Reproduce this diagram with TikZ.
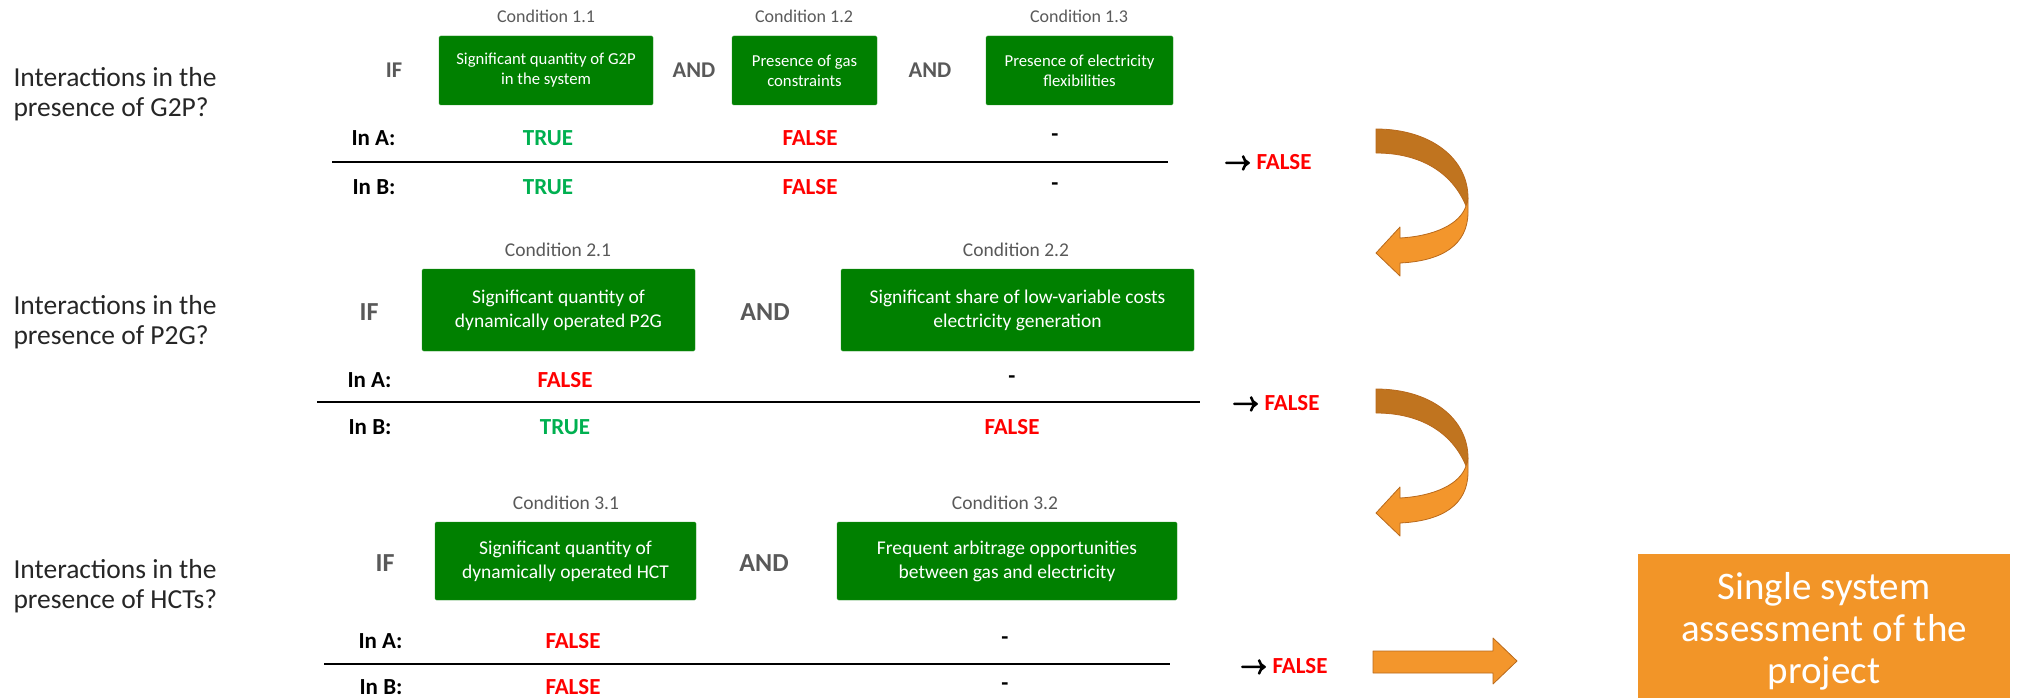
\documentclass[tikz,border=0pt]{standalone}
\usepackage{fontspec}
\setmainfont{Carlito}
\newfontfamily\arrowfont[FakeBold=6]{latinmodern-math.otf}
\definecolor{boxgreen}{HTML}{008000}
\definecolor{truegreen}{HTML}{00B050}
\definecolor{falsered}{HTML}{FF0000}
\definecolor{wordgray}{HTML}{595959}
\definecolor{orangebox}{HTML}{F29528}
\definecolor{arrowlight}{HTML}{F3962C}
\definecolor{arrowdark}{HTML}{C0741F}
\definecolor{arrowedge}{HTML}{B8691C}

\begin{document}
\begin{tikzpicture}[x=1pt,y=-1pt,
    question/.style={anchor=west, align=left, text=black!85, font=\fontsize{27.5}{30}\selectfont},
    condlabel/.style={text=wordgray, font=\fontsize{18}{21}\selectfont},
    condbox/.style={fill=boxgreen, draw=boxgreen!85!white, rounded corners=1.5pt, text=white, align=center, inner sep=0pt, font=\fontsize{16.7}{20}\selectfont},
    joiner/.style={text=wordgray, font=\bfseries\fontsize{22.5}{26}\selectfont},
    caselabel/.style={anchor=east, font=\bfseries\fontsize{23}{27}\selectfont},
    verdict/.style={font=\bfseries\fontsize{23}{27}\selectfont},
    big/.style={font=\fontsize{19.5}{24}\selectfont},
    rule/.style={line width=2.5pt},
    ribbon/.style={draw=arrowedge, line width=0.8pt, line join=round}]
        \useasboundingbox (0,0) rectangle (2020,698);

        % row 1: G2P
        \node[question] (q1) at (10,94) {Interactions in the\\presence of G2P?};
        \node[condlabel] (l11) at (546,16) {Condition 1.1};
        \node[condlabel] (l12) at (804,16) {Condition 1.2};
        \node[condlabel] (l13) at (1079,16) {Condition 1.3};
        \node[joiner] (if1) at (394,70) {IF};
        \node[condbox, minimum width=214, minimum height=69] (c11) at (546,70.5) {Significant quantity of G2P\\in the system};
        \node[joiner] (and11) at (694,70) {AND};
        \node[condbox, minimum width=145, minimum height=69] (c12) at (804.5,70.5) {Presence of gas\\constraints};
        \node[joiner] (and12) at (930,70) {AND};
        \node[condbox, minimum width=187, minimum height=69] (c13) at (1079.5,70.5) {Presence of electricity\\flexibilities};
        \node[caselabel] (a1) at (399,138) {In A:};
        \node[verdict, truegreen] (a11) at (548,138) {TRUE};
        \node[verdict, falsered] (a12) at (810,138) {FALSE};
        \node[verdict] (a13) at (1055,138) {-};
        \coordinate (s1a) at (332,162);
        \coordinate (s1b) at (1168,162);
        \draw[rule] (s1a) -- (s1b);
        \node[caselabel] (b1) at (399,187) {In B:};
        \node[verdict, truegreen] (b11) at (548,187) {TRUE};
        \node[verdict, falsered] (b12) at (810,187) {FALSE};
        \node[verdict] (b13) at (1055,187) {-};
        \node[verdict, anchor=west] (r1) at (1221,162) {{\arrowfont\fontsize{26}{27}\selectfont →}\hspace{6pt}\textcolor{falsered}{FALSE}};

        % row 2: P2G
        \node[question] (q2) at (10,322) {Interactions in the\\presence of P2G?};
        \node[condlabel, big, text=wordgray] (l21) at (558,250) {Condition 2.1};
        \node[condlabel, big, text=wordgray] (l22) at (1016,250) {Condition 2.2};
        \node[joiner, font=\bfseries\fontsize{26}{30}\selectfont] (if2) at (369,312) {IF};
        \node[condbox, big, minimum width=273, minimum height=82] (c21) at (558.5,310) {Significant quantity of\\dynamically operated P2G};
        \node[joiner, font=\bfseries\fontsize{26}{30}\selectfont] (and2) at (765,312) {AND};
        \node[condbox, big, minimum width=353, minimum height=82] (c22) at (1017.5,310) {Significant share of low-variable costs\\electricity generation};
        \node[caselabel] (a2) at (395,380) {In A:};
        \node[verdict, falsered] (a21) at (565,380) {FALSE};
        \node[verdict] (a22) at (1012,380) {-};
        \coordinate (s2a) at (317,402);
        \coordinate (s2b) at (1200,402);
        \draw[rule] (s2a) -- (s2b);
        \node[caselabel] (b2) at (395,427) {In B:};
        \node[verdict, truegreen] (b21) at (565,427) {TRUE};
        \node[verdict, falsered] (b22) at (1012,427) {FALSE};
        \node[verdict, anchor=west] (r2) at (1229,403) {{\arrowfont\fontsize{26}{27}\selectfont →}\hspace{6pt}\textcolor{falsered}{FALSE}};

        % row 3: HCT
        \node[question] (q3) at (10,586) {Interactions in the\\presence of HCTs?};
        \node[condlabel, big, text=wordgray] (l31) at (566,503) {Condition 3.1};
        \node[condlabel, big, text=wordgray] (l32) at (1005,503) {Condition 3.2};
        \node[joiner, font=\bfseries\fontsize{26}{30}\selectfont] (if3) at (385,563) {IF};
        \node[condbox, big, minimum width=261, minimum height=78] (c31) at (565.5,561) {Significant quantity of\\dynamically operated HCT};
        \node[joiner, font=\bfseries\fontsize{26}{30}\selectfont] (and3) at (764,563) {AND};
        \node[condbox, big, minimum width=340, minimum height=78] (c32) at (1007,561) {Frequent arbitrage opportunities\\between gas and electricity};
        \node[caselabel] (a3) at (406,641) {In A:};
        \node[verdict, falsered] (a31) at (573,641) {FALSE};
        \node[verdict] (a32) at (1005,641) {-};
        \coordinate (s3a) at (324,664);
        \coordinate (s3b) at (1170,664);
        \draw[rule] (s3a) -- (s3b);
        \node[caselabel] (b3) at (406,687) {In B:};
        \node[verdict, falsered] (b31) at (573,687) {FALSE};
        \node[verdict] (b32) at (1005,687) {-};
        \node[verdict, anchor=west] (r3) at (1237,666) {{\arrowfont\fontsize{26}{27}\selectfont →}\hspace{6pt}\textcolor{falsered}{FALSE}};

        % curved arrows between the rows
        \foreach \dy in {0,260} {
            \begin{scope}[shift={(0,\dy)}]
                \draw[ribbon, fill=arrowdark] (1376,129) .. controls (1430,129) and (1468,158) .. (1468,198)
                    -- (1466,206) .. controls (1452,172) and (1420,153) .. (1376,153) -- cycle;
                \draw[ribbon, fill=arrowlight] (1466,206) -- (1468,198) -- (1468,212)
                    .. controls (1468,245) and (1442,261) .. (1400,263) -- (1400,276) -- (1376,253)
                    -- (1400,227) -- (1400,238) .. controls (1435,236) and (1460,224) .. (1466,206) -- cycle;
            \end{scope}
        }

        % last arrow and result
        \draw[ribbon, fill=arrowlight] (1373,651) -- (1493,651) -- (1493,638) -- (1517,661)
            -- (1493,684) -- (1493,673) -- (1373,673) -- cycle;
        \node[fill=orangebox, minimum width=372, minimum height=168, text=white, align=center, font=\fontsize{39}{42}\selectfont] (res) at (1824,638) {};
        \node[text=white, align=center, font=\fontsize{39}{42}\selectfont] (restext) at (1824,631) {Single system\\assessment of the\\project};
\end{tikzpicture}
\end{document}
